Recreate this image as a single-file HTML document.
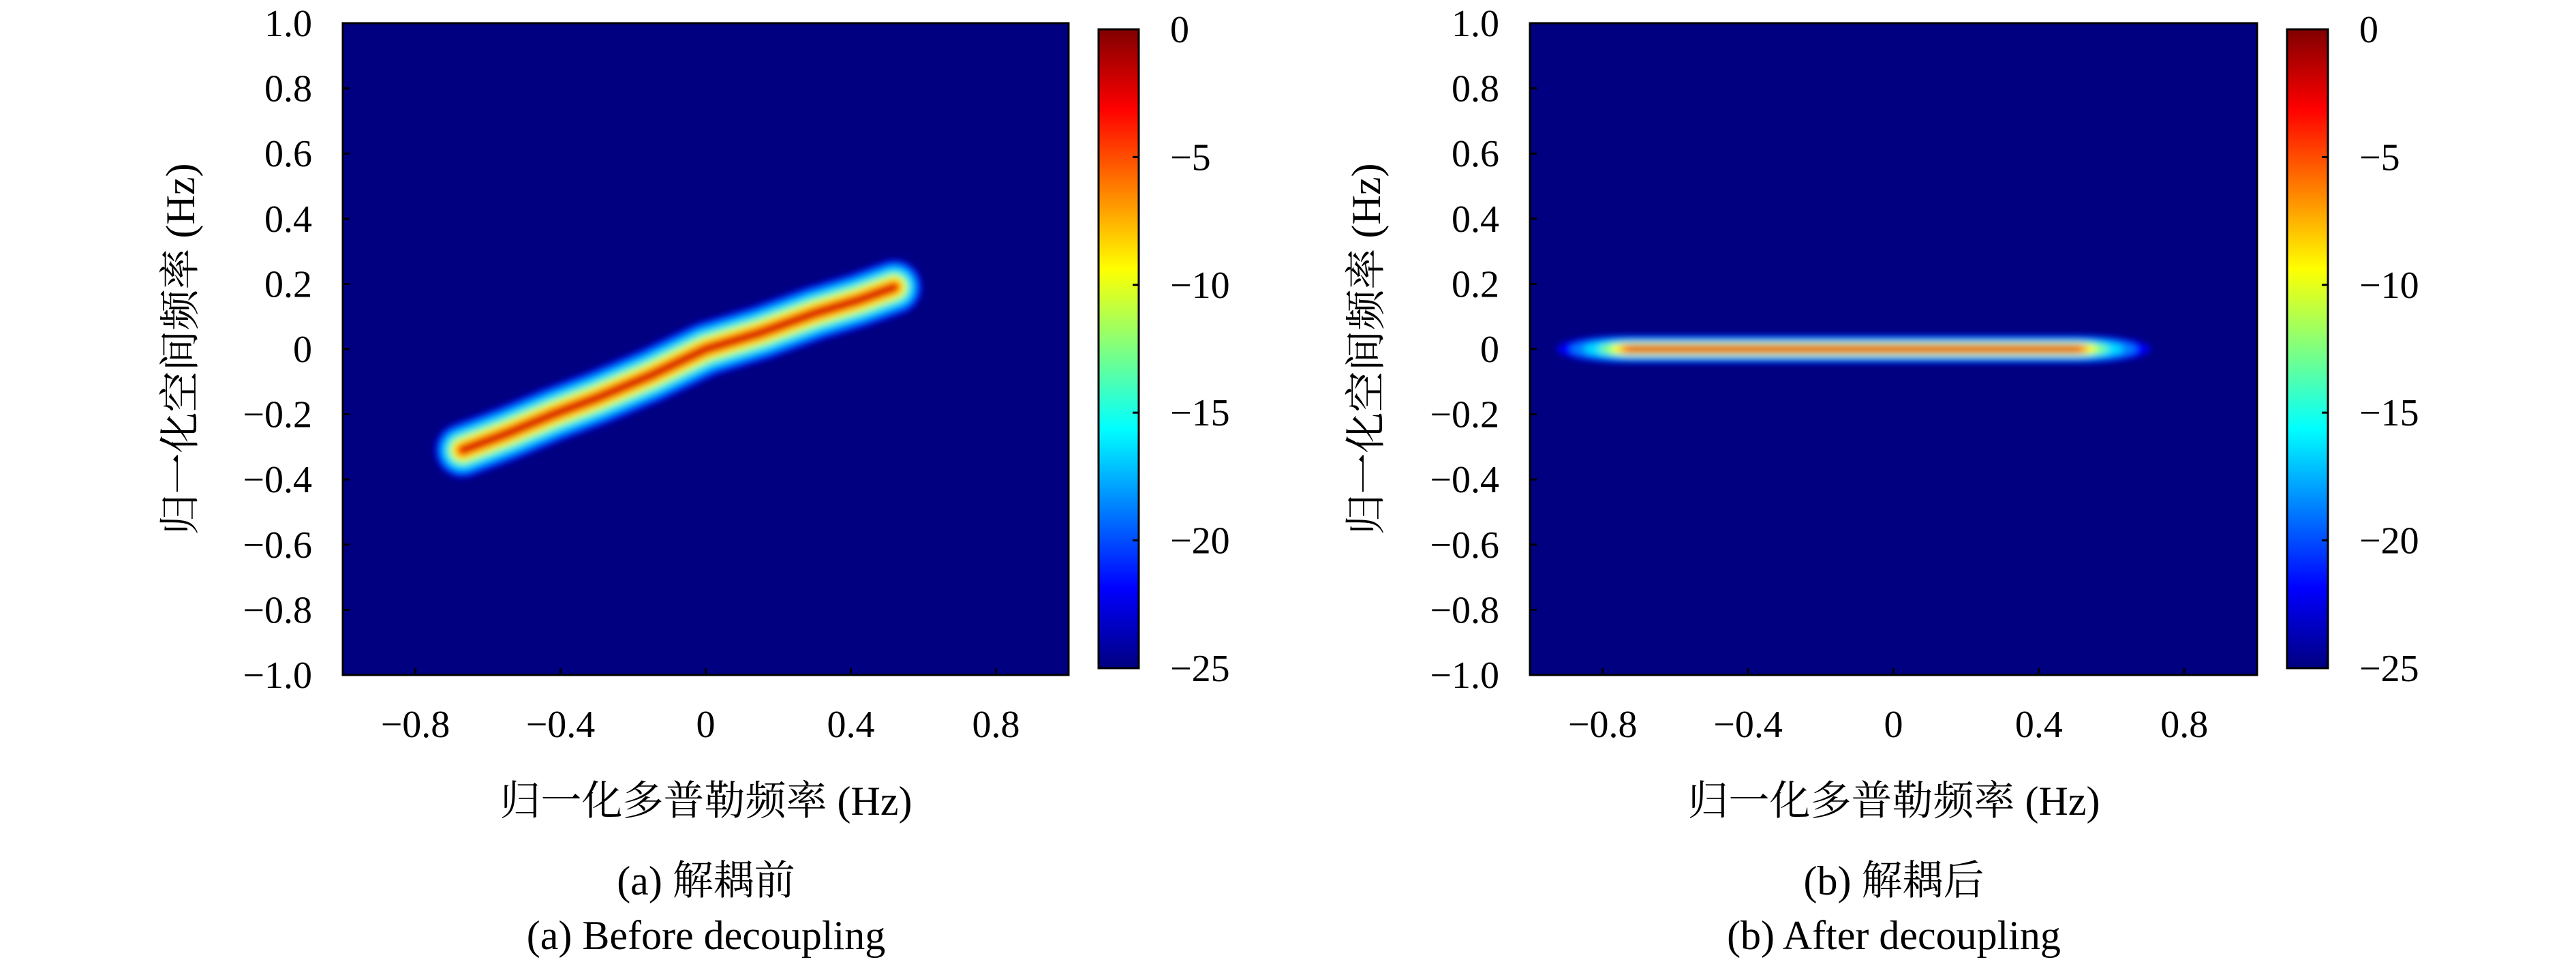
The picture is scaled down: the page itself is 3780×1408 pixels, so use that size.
<!DOCTYPE html>
<html><head><meta charset="utf-8"><style>
html,body{margin:0;padding:0;background:#fff;}
svg{display:block;}
</style></head><body>
<svg id="fig" width="3780" height="1408" viewBox="0 0 3780 1408" xmlns="http://www.w3.org/2000/svg">
<defs>
<linearGradient id="jet" x1="0" y1="1" x2="0" y2="0">
<stop offset="0" stop-color="#000080"/><stop offset="0.125" stop-color="#0000ff"/>
<stop offset="0.375" stop-color="#00ffff"/><stop offset="0.625" stop-color="#ffff00"/>
<stop offset="0.875" stop-color="#ff0000"/><stop offset="1" stop-color="#800000"/>
</linearGradient>
<filter id="bl" x="-20%" y="-50%" width="140%" height="200%"><feGaussianBlur stdDeviation="5"/></filter>
<clipPath id="clipA"><rect x="503" y="34" width="1065" height="956"/></clipPath>
<clipPath id="clipB"><rect x="2245" y="34" width="1067" height="956"/></clipPath>
</defs>
<g id="root"></g>
</svg>
<script>
const yTicks=[1.0,0.8,0.6,0.4,0.2,0,-0.2,-0.4,-0.6,-0.8,-1.0];
const yTickLabels=["1.0","0.8","0.6","0.4","0.2","0","\u22120.2","\u22120.4","\u22120.6","\u22120.8","\u22121.0"];
const xTicks=[-0.8,-0.4,0,0.4,0.8];
const xTickLabels=["\u22120.8","\u22120.4","0","0.4","0.8"];
const cbTicks=[0,-5,-10,-15,-20,-25];
const cbTickLabels=["0","\u22125","\u221210","\u221215","\u221220","\u221225"];
const ridgeAX=[-0.67,-0.55,-0.42,-0.3,-0.15,0,0.15,0.3,0.42,0.52];
const ridgeAY=[-0.31,-0.26,-0.2,-0.15,-0.08,0,0.05,0.11,0.15,0.19];
const ridgeBX=[-0.72,-0.3,0.1,0.5];
const ridgeBY=[0,0,0,0];

const NS="http://www.w3.org/2000/svg";
const FONT='"Liberation Serif","DejaVu Serif","Noto Serif CJK SC",serif';
const root=document.getElementById('root');
function mk(tag,attrs,parent){const e=document.createElementNS(NS,tag);for(const k in attrs)e.setAttribute(k,attrs[k]);(parent||root).appendChild(e);return e;}
function txt(attrs,size,s,parent){const t=mk('text',attrs,parent);t.setAttribute('font-family',FONT);t.setAttribute('font-size',size);t.style.fontFamily=FONT;t.style.fontSize=size+'px';t.setAttribute('fill','#000');t.textContent=s;return t;}

const panels=[
 {x0:503,x1:1568,y0:34,y1:990,cb:[1612,1671,43,980],clip:"clipA",ylabX:265,capX:1036,rx:ridgeAX,ry:ridgeAY,mode:"a",cap1:"(a) 解耦前",cap2:"(a) Before decoupling",id:"a"},
 {x0:2245,x1:3312,y0:34,y1:990,cb:[3356,3416,43,980],clip:"clipB",ylabX:2005,capX:2779,rx:ridgeBX,ry:ridgeBY,mode:"b",cap1:"(b) 解耦后",cap2:"(b) After decoupling",id:"b"}
];
const jet=["#0000ff","#0080ff","#00e0ff","#80ff80","#ffff00","#ff9000","#ff2000","#b00000"];
panels.forEach(p=>{
 const sx=v=>p.x0+(v+1)/2*(p.x1-p.x0);
 const sy=v=>p.y1-(v+1)/2*(p.y1-p.y0);
 const g=mk('g',{});
 
 
 const bg=mk('rect',{x:p.x0,y:p.y0,width:p.x1-p.x0,height:p.y1-p.y0,fill:'#000080'},g);
 
 
 const hg=mk('g',{'clip-path':'url(#'+p.clip+')'},g);
 
 
 const hf=mk('g',{filter:'url(#bl)'},hg);
 if(p.mode==="a"){
  const hw=[40,34,28,21,16,11,7,3];
  const pts=p.rx.map((v,i)=>sx(v)+','+sy(p.ry[i])).join(' ');
  hw.forEach((w,i)=>{const l=mk('polyline',{points:pts,fill:'none',stroke:jet[i],'stroke-width':2*w,'stroke-linecap':'round','stroke-linejoin':'round'},hf);
   
   });
 } else {
  const hh=[20,16,13,10,8,6,4,1.8];
  const ext=[110,90,70,48,32,20,12,5];
  const xa=sx(Math.min(...p.rx)),xb=sx(Math.max(...p.rx));
  hh.forEach((h,i)=>{const yc=sy(p.ry[0]);
   const r=mk('rect',{x:xa-ext[i],y:yc-h,width:xb-xa+2*ext[i],height:2*h,rx:ext[i],ry:h,fill:jet[i]},hf);
   
   });
 }
 const fr=mk('rect',{x:p.x0,y:p.y0,width:p.x1-p.x0,height:p.y1-p.y0,fill:'none',stroke:'#000','stroke-width':3},g);
 
 
 yTicks.forEach((v,i)=>{const y=sy(v);
  mk('line',{x1:p.x0,x2:p.x0+10,y1:y,y2:y,stroke:'#000','stroke-width':3},g);
  const t=txt({x:p.x0-45,y:y+19,'text-anchor':'end'},56,yTickLabels[i],g);
  
  });
 xTicks.forEach((v,i)=>{const x=sx(v);
  mk('line',{x1:x,x2:x,y1:p.y1,y2:p.y1-10,stroke:'#000','stroke-width':3},g);
  const t=txt({x:x,y:1081,'text-anchor':'middle'},56,xTickLabels[i],g);
  
  });
 const [cx0,cx1,cy0,cy1]=p.cb;
 const cb=mk('rect',{x:cx0,y:cy0,width:cx1-cx0,height:cy1-cy0,fill:'url(#jet)',stroke:'#000','stroke-width':3},g);
 
 
 cbTicks.forEach((v,i)=>{const y=cy0+(0-v)/25*(cy1-cy0);
  mk('line',{x1:cx1,x2:cx1-9,y1:y,y2:y,stroke:'#000','stroke-width':3},g);
  const t=txt({x:cx1+46,y:y+19},56,cbTickLabels[i],g);
  
  });
 const yl=txt({x:0,y:0,'text-anchor':'middle',transform:'translate('+(p.ylabX+20)+','+((p.y0+p.y1)/2)+') rotate(-90)'},60,"归一化空间频率 (Hz)",g);
 
 
 const xl=txt({x:p.capX,y:1195,'text-anchor':'middle'},60,"归一化多普勒频率 (Hz)",g);
 
 
 const c1=txt({x:p.capX,y:1312,'text-anchor':'middle'},60,p.cap1,g);
 
 
 const c2=txt({x:p.capX,y:1392,'text-anchor':'middle'},60,p.cap2,g);
 
 
});
</script>
</body></html>
